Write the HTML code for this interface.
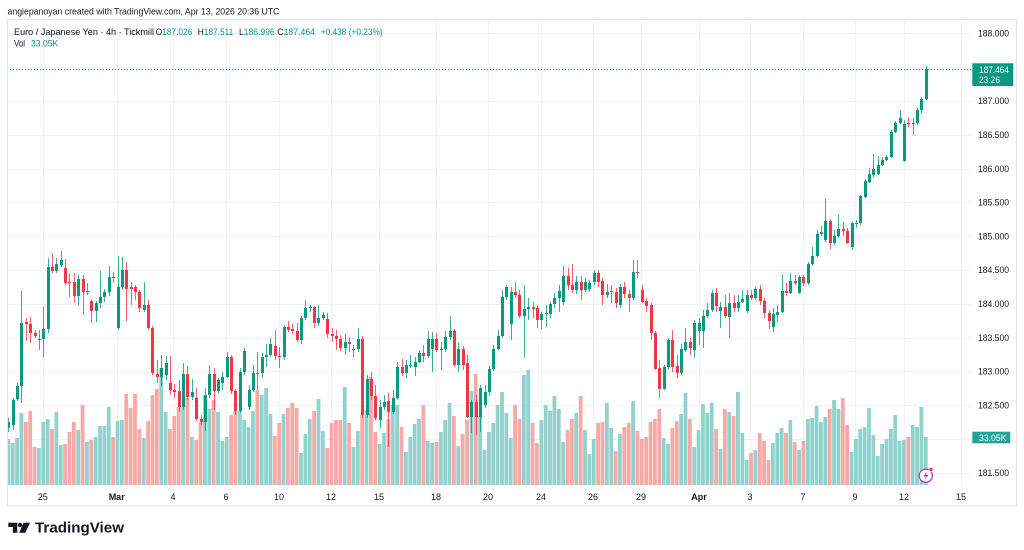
<!DOCTYPE html>
<html><head><meta charset="utf-8">
<style>
html,body{margin:0;padding:0;background:#fff;}
svg{display:block;font-family:"Liberation Sans",Arial,sans-serif;}
</style></head>
<body>
<svg id="s" width="1024" height="550" viewBox="0 0 1024 550" xmlns="http://www.w3.org/2000/svg">
<rect width="1024" height="550" fill="#ffffff"/>
<g id="grid" stroke="#f0f2f6" stroke-width="1"></g>
<g id="vols"></g>
<g id="cands"></g>
<line x1="7" y1="69.5" x2="972" y2="69.5" stroke="#089981" stroke-width="1" stroke-dasharray="1,2"/>
<rect x="7.5" y="19.5" width="1009" height="486.5" fill="none" stroke="#e0e3eb" stroke-width="1"/>
<text x="7.5" y="14.5" font-size="9.5" fill="#131722" textLength="272" lengthAdjust="spacingAndGlyphs">angiepanoyan created with TradingView.com, Apr 13, 2026 20:36 UTC</text>
<text x="14" y="35" font-size="9.2" fill="#131722" textLength="140" lengthAdjust="spacingAndGlyphs">Euro / Japanese Yen · 4h · Tickmill</text>
<text x="155.7" y="35" font-size="9.2" textLength="36.6" lengthAdjust="spacingAndGlyphs"><tspan fill="#131722">O</tspan><tspan fill="#089981">187.026</tspan></text>
<text x="197.7" y="35" font-size="9.2" textLength="35.6" lengthAdjust="spacingAndGlyphs"><tspan fill="#131722">H</tspan><tspan fill="#089981">187.511</tspan></text>
<text x="239" y="35" font-size="9.2" textLength="35.7" lengthAdjust="spacingAndGlyphs"><tspan fill="#131722">L</tspan><tspan fill="#089981">186.996</tspan></text>
<text x="277.3" y="35" font-size="9.2" textLength="37.7" lengthAdjust="spacingAndGlyphs"><tspan fill="#131722">C</tspan><tspan fill="#089981">187.464</tspan></text>
<text x="320.7" y="35" font-size="9.2" fill="#089981" textLength="62" lengthAdjust="spacingAndGlyphs">+0.438 (+0.23%)</text>
<text x="14" y="46.5" font-size="9.2" fill="#131722" textLength="11" lengthAdjust="spacingAndGlyphs">Vol</text>
<text x="31" y="46.5" font-size="9.2" fill="#089981" textLength="27.3" lengthAdjust="spacingAndGlyphs">33.05K</text>
<g id="paxis" font-size="9" fill="#131722"></g>
<g id="taxis" font-size="9" fill="#131722" text-anchor="middle"></g>
<rect x="972.3" y="63.3" width="41" height="22.7" fill="#089981"/>
<text x="979" y="72.8" font-size="9" fill="#ffffff" textLength="30" lengthAdjust="spacingAndGlyphs">187.464</text>
<text x="979" y="83.2" font-size="9" fill="#ffffff" textLength="21" lengthAdjust="spacingAndGlyphs">23:26</text>
<rect x="972.3" y="431.7" width="38" height="11.6" fill="#22a597"/>
<text x="979" y="440.8" font-size="9" fill="#ffffff" textLength="27.5" lengthAdjust="spacingAndGlyphs">33.05K</text>
<circle cx="925.8" cy="475.7" r="6.6" fill="#ffffff" stroke="#a43fc4" stroke-width="1.3"/>
<path d="M927 471.5 L923.3 476.5 L926 476.5 L924.6 480 L928.5 474.8 L925.8 474.8 Z" fill="#a43fc4"/>
<circle cx="931" cy="469.5" r="2" fill="#f23645" stroke="#fff" stroke-width="0.6"/>
<g fill="#131722">
<path d="M8.3 522.7 H17.3 V532.7 H12.8 V527 H8.3 Z"/>
<circle cx="20" cy="525" r="2.2"/>
<path d="M23.5 522.7 H30 L25.3 532.7 H19.2 Z"/>
</g>
<text x="35" y="532.3" font-size="15" font-weight="bold" fill="#131722" textLength="89" lengthAdjust="spacingAndGlyphs">TradingView</text>
</svg>
<script>
(function(){
var NS="http://www.w3.org/2000/svg";
function el(tag,attrs,parent,txt){var e=document.createElementNS(NS,tag);for(var k in attrs)e.setAttribute(k,attrs[k]);if(txt!==undefined)e.textContent=txt;parent.appendChild(e);return e;}
var D=[
[428,422,418,432,439],[425,400,398,430,443],[399,386,383,401,438],[386,323,291,403,413],[322,324,318,341,422],
[324,333,317,343,411],[333,336,330,338,447],[340,339,330,350,448],[339,329,307,357,422],[329,267,258,333,419],
[267,271,253,273,429],[271,264,258,273,412],[265,260,251,267,445],[268,283,259,285,444],[282,283,273,297,432],
[282,296,273,303,422],[296,279,275,305,430],[279,292,275,315,405],[292,291,283,295,442],[301,311,300,323,440],
[311,303,301,322,437],[303,297,271,308,426],[297,292,289,302,426],[292,277,266,296,407],[277,278,272,282,437],
[328,287,256,330,421],[287,270,257,290,420],[270,289,262,321,394],[287,289,282,305,408],[287,292,285,300,394],
[292,308,290,312,429],[310,305,282,312,438],[305,328,300,330,421],[328,373,326,375,395],[374,377,360,383,389],
[377,368,355,386,368],[375,363,356,380,412],[383,390,356,395,429],[390,392,384,398,416],[391,407,380,412,407],
[407,374,363,410,407],[374,397,366,400,398],[397,392,379,400,437],[398,419,388,421,440],[419,422,415,425,422],
[422,395,388,431,395],[395,374,365,398,409],[374,391,368,410,400],[391,380,378,393,412],[383,377,372,390,441],
[377,357,352,378,437],[357,391,355,394,415],[391,411,389,415,411],[411,372,368,413,411],[372,351,348,375,420],
[407,390,385,410,427],[390,373,365,392,411],[373,374,352,390,390],[373,357,353,378,395],[357,355,344,367,388],
[355,344,338,357,414],[346,356,330,360,436],[356,357,347,368,423],[357,327,325,360,414],[327,330,321,332,408],
[329,331,324,334,403],[331,340,323,342,408],[340,318,316,344,453],[318,308,300,320,434],[308,307,305,312,419],
[307,323,306,328,411],[323,318,305,326,399],[318,315,312,320,431],[319,334,313,338,448],[334,336,328,342,423],
[336,339,330,350,420],[339,348,335,351,420],[348,342,334,355,387],[342,344,337,352,423],[350,349,345,357,447],
[349,339,328,352,431],[339,415,336,418,415],[415,379,375,418,410],[379,396,372,400,377],[396,418,385,420,432],
[420,407,400,428,444],[407,402,395,410,433],[401,412,393,447,419],[412,398,390,414,405],[398,367,362,400,405],
[367,373,359,376,427],[373,365,360,378,452],[366,365,355,368,437],[367,362,357,376,424],[362,353,350,363,419],
[353,356,345,362,405],[356,339,331,358,441],[349,339,332,372,443],[339,350,333,352,442],[350,349,342,370,432],
[349,337,331,352,420],[337,331,316,340,403],[331,365,329,367,416],[365,349,343,372,446],[349,365,346,370,434],
[363,417,355,418,420],[417,402,400,433,391],[402,417,395,435,374],[417,388,385,432,417],[405,392,385,408,450],
[392,369,366,396,432],[369,349,345,371,423],[349,336,330,350,405],[336,297,290,338,392],[297,287,285,300,413],
[324,292,287,340,438],[292,295,282,298,405],[295,316,290,318,419],[316,309,285,358,375],[309,307,298,320,370],
[307,309,302,318,423],[308,320,305,328,443],[320,314,312,329,420],[314,313,305,327,405],[314,304,302,318,411],
[304,298,293,308,396],[298,291,285,312,409],[302,276,266,305,442],[276,285,268,290,430],[285,290,264,293,419],
[290,282,276,294,413],[282,290,276,300,396],[290,282,278,292,430],[289,283,280,292,454],[282,273,270,285,439],
[273,282,270,287,423],[281,295,278,305,422],[295,292,284,298,403],[292,291,285,303,428],[292,303,288,308,451],
[305,287,284,308,434],[287,294,282,298,427],[294,298,290,312,423],[298,272,260,300,401],[272,273,260,278,431],
[290,302,285,303,439],[301,306,298,312,437],[305,333,303,340,422],[333,369,331,370,419],[368,389,360,398,409],
[389,367,365,390,438],[367,340,338,370,444],[340,367,330,372,428],[366,373,355,378,421],[373,349,344,375,414],
[350,342,328,352,393],[342,348,338,355,419],[350,323,320,358,447],[331,323,318,345,430],[331,316,310,348,404],
[316,310,303,318,413],[310,293,290,312,403],[293,306,288,312,429],[311,307,302,328,449],[307,316,295,318,409],
[317,303,293,338,412],[303,308,295,312,416],[308,302,295,312,392],[302,299,290,303,433],[311,295,290,313,460],
[295,298,290,300,453],[298,289,287,300,450],[289,301,285,305,433],[301,313,298,318,441],[313,321,310,329,460],
[327,314,308,332,443],[315,312,305,322,433],[312,291,275,313,428],[291,293,283,296,433],[293,281,273,294,420],
[281,283,275,285,442],[293,277,275,294,450],[277,283,275,286,441],[283,264,262,285,419],[264,256,247,266,418],
[256,234,230,257,406],[234,232,226,236,422],[240,221,199,242,417],[221,243,219,249,409],[243,236,230,245,400],
[236,229,215,238,409],[229,231,222,236,398],[231,243,228,244,425],[247,223,222,250,452],[224,223,220,228,439],
[223,196,195,225,429],[197,181,179,198,427],[182,174,168,183,408],[175,169,154,177,435],[174,165,156,175,456],
[165,160,157,166,444],[160,157,155,161,439],[157,132,130,158,429],[132,123,121,133,415],[123,118,110,124,441],
[161,124,120,162,440],[123,124,117,127,437],[124,123,118,135,425],[123,110,108,125,427],[110,99,97,113,407],
[99,69,66,100,437]
];
var grid=document.getElementById('grid');
var dates=[[42.7,"25"],[116.7,"Mar"],[173,"4"],[226,"6"],[279,"10"],[331,"12"],[379,"15"],[436,"18"],[488,"20"],[541,"24"],[593,"26"],[641,"29"],[699,"Apr"],[750,"3"],[803,"7"],[855,"9"],[904,"12"],[961,"15"]];
var prices=[];
for(var p=188;p>=181.5-1e-9;p-=0.5){prices.push(p);}
function py(p){return 33.3+(188-p)*67.6;}
prices.forEach(function(p){var y=Math.round(py(p))+0.5;el('line',{x1:7,y1:y,x2:971,y2:y},grid);});
dates.forEach(function(d){var x=Math.round(d[0])+0.5;el('line',{x1:x,y1:20,x2:x,y2:485},grid);});
var pax=document.getElementById('paxis');
prices.forEach(function(p){if(Math.abs(p-182)<1e-6)return;var y=py(p);el('text',{x:978,y:(y+3.3).toFixed(1),textLength:31,lengthAdjust:'spacingAndGlyphs'},pax,p.toFixed(3));});
var tax=document.getElementById('taxis');
dates.forEach(function(d){var a={x:d[0],y:500};if(d[1]==="Mar"||d[1]==="Apr")a['font-weight']='bold';el('text',a,tax,d[1]);});
var vols=document.getElementById('vols'),cands=document.getElementById('cands');
var UP="#089981",DN="#f23645",VUP="#92d2cc",VDN="#f7a9a7";
for(var i=0;i<D.length;i++){
 var x=8.3+i*4.369,d=D[i],o=d[0],c=d[1],h=d[2],l=d[3],v=d[4];
 var up=c<=o;
 var vx=Math.max(7.5,x-1.9), vw=Math.min(3.8, x+1.9-vx);
 el('rect',{x:vx.toFixed(2),y:v,width:vw.toFixed(2),height:(485-v),fill:up?VUP:VDN},vols);
 var wx=Math.round(x)+0.5;
 el('line',{x1:wx,y1:h,x2:wx,y2:l,stroke:up?UP:DN,'stroke-width':1,'stroke-opacity':0.8},cands);
 var top=Math.min(o,c),ht=Math.max(1,Math.abs(o-c));
 el('rect',{x:(wx-1.5),y:top,width:3,height:ht,fill:up?UP:DN},cands);
}
})();
</script>
</body></html>
